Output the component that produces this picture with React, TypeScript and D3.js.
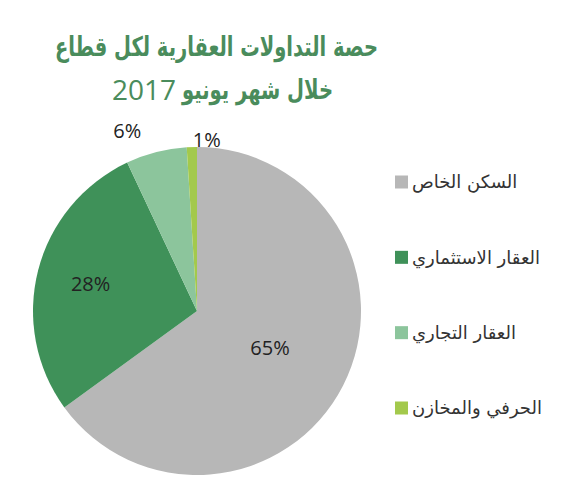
import React from "react";
import * as d3 from "d3";

const categories = ["السكن الخاص", "العقار الاستثماري", "العقار التجاري", "الحرفي والمخازن"];
const values = [65, 28, 6, 1];
const colors = ["#b7b7b7", "#3f9159", "#8cc59c", "#a3c94c"];
const titleLine1 = "حصة التداولات العقارية لكل قطاع";
const titleLine2 = "خلال شهر يونيو";
const titleYear = "2017";

const W = 576;
const H = 500;
const cx = 197;
const cy = 311;
const R = 164;

export default function App() {
  const pie = d3.pie<number>().sort(null).value((d) => d).startAngle(0).endAngle(2 * Math.PI);
  const arcs = pie(values);
  const arcGen = d3.arc<d3.PieArcDatum<number>>().innerRadius(0).outerRadius(R);
  const total = d3.sum(values);

  // returns baseline-based position
  const labelPos = (a: d3.PieArcDatum<number>) => {
    const p = a.value / total;
    const mid = (a.startAngle + a.endAngle) / 2;
    if (p > 0.5) return { x: Math.sin(mid) * R * 0.5, y: -Math.cos(mid) * R * 0.5, dy: "0.35em", anchor: "middle" };
    if (p > 0.1) return { x: Math.sin(mid) * R * 0.67, y: -Math.cos(mid) * R * 0.67, dy: "0.35em", anchor: "middle" };
    const x = Math.sin(a.startAngle) * R;
    if (p < 0.03) return { x: x + 6, y: -R, dy: "0", anchor: "start" };
    return { x, y: -R - 9, dy: "0", anchor: "middle" };
  };

  const legendY = d3.scalePoint<string>().domain(categories).range([182, 408]);

  return (
    <svg width={W} height={H} style={{ position: "absolute", left: 0, top: 0, background: "#fff" }}>
      <g fontFamily="'DejaVu Sans', sans-serif" fill="#4a8c5c">
        <text x={216.5} y={56} fontSize={27} fontWeight="bold" textAnchor="middle" textLength={323} lengthAdjust="spacingAndGlyphs">
          {titleLine1}
        </text>
        <text x={333} y={99} fontSize={27} fontWeight="bold" textAnchor="end" direction="ltr" textLength={151} lengthAdjust="spacingAndGlyphs">
          {titleLine2}
        </text>
        <text x={112} y={100} fontSize={28} fontFamily="'Open Sans', sans-serif" textAnchor="start">
          {titleYear}
        </text>
      </g>
      <g transform={`translate(${cx},${cy})`}>
        {arcs.map((a, i) => (
          <path key={i} d={arcGen(a) || ""} fill={colors[i]} />
        ))}
        {arcs.map((a, i) => {
          const pos = labelPos(a);
          return (
            <text
              key={"l" + i}
              x={pos.x}
              y={pos.y}
              dy={pos.dy}
              textAnchor={pos.anchor}
              fontFamily="'Open Sans', sans-serif"
              fontSize={20}
              fill="#222"
            >
              {`${a.value}%`}
            </text>
          );
        })}
      </g>
      <g>
        {categories.map((c, i) => (
          <g key={c} transform={`translate(395,${legendY(c)})`}>
            <rect x={0} y={-6.5} width={13} height={13} fill={colors[i]} />
            <text x={17} y={0} dy="0.35em" fontFamily="'DejaVu Sans', sans-serif" fontSize={18} fill="#333" textAnchor="start">
              {c}
            </text>
          </g>
        ))}
      </g>
    </svg>
  );
}
